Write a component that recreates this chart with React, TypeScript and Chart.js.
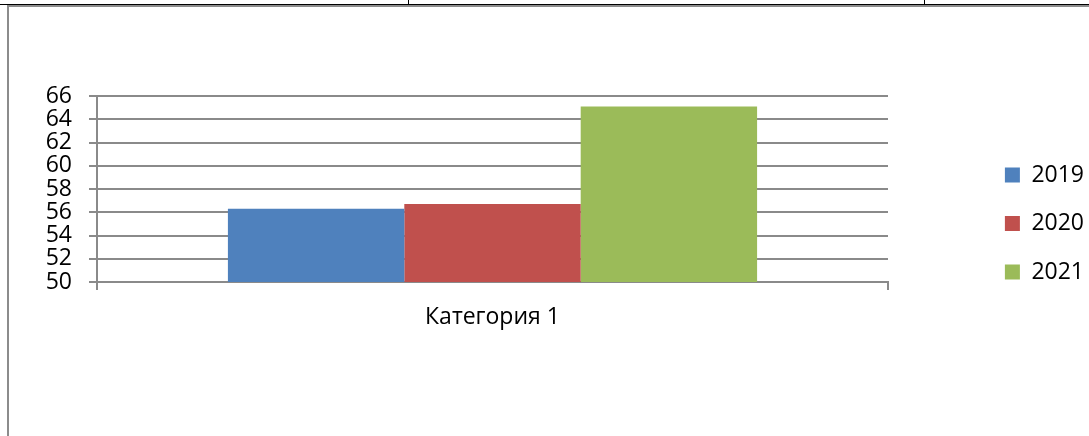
import React, { useEffect, useRef } from "react";
import { Chart, registerables } from "chart.js";

Chart.register(...registerables);

const categories = ["Категория 1"];
const seriesNames = ["2019", "2020", "2021"];
const values2019 = [56.3];
const values2020 = [56.7];
const values2021 = [65.1];
const seriesColors = ["#4F81BD", "#C0504D", "#9BBB59"];
const yMin = 50;
const yMax = 66;
const yStep = 2;

const GRID = "#8a8a8a";
const FONT = "'Open Sans', 'Noto Sans', sans-serif";
const FS = 23;

export default function App() {
  const ref = useRef<HTMLCanvasElement | null>(null);

  useEffect(() => {
    if (!ref.current) return;
    const seriesValues = [values2019, values2020, values2021];
    const chart = new Chart(ref.current, {
      type: "bar",
      data: {
        labels: categories,
        datasets: seriesNames.map((name, i) => ({
          label: name,
          data: seriesValues[i],
          backgroundColor: seriesColors[i],
          borderWidth: 0,
          categoryPercentage: 0.669,
          barPercentage: 1,
        })),
      },
      options: {
        animation: false,
        responsive: false,
        devicePixelRatio: 1,
        layout: { padding: { left: 0, right: -5, top: 4, bottom: 0 } },
        plugins: {
          tooltip: { enabled: false },
          legend: {
            position: "right",
            align: "center",
            labels: {
              boxWidth: 15,
              boxHeight: 15,
              padding: 25.5,
              color: "#000",
              font: { family: FONT, size: FS },
            },
          },
        },
        scales: {
          x: {
            position: "bottom",
            offset: true,
            grid: {
              display: true,
              offset: true,
              drawOnChartArea: false,
              drawTicks: true,
              tickLength: 8,
              color: GRID,
              lineWidth: 2,
            },
            border: { display: true, color: GRID, width: 2 },
            ticks: {
              color: "#000",
              padding: 14,
              font: { family: FONT, size: FS },
            },
            afterFit: (s: any) => {
              s.height = 154;
            },
          },
          xTop: {
            type: "category",
            position: "top",
            labels: categories,
            grid: { display: false },
            border: { display: false },
            ticks: { display: false },
            afterFit: (s: any) => {
              s.height = 85;
            },
          },
          y: {
            min: yMin,
            max: yMax,
            ticks: {
              stepSize: yStep,
              autoSkip: false,
              color: "#000",
              padding: 17,
              font: { family: FONT, size: FS },
            },
            grid: {
              color: GRID,
              lineWidth: 2,
              drawTicks: true,
              tickLength: 8,
            },
            border: { display: true, color: GRID, width: 2 },
            afterFit: (s: any) => {
              s.width = 88;
            },
          },
          ySpacer: {
            type: "linear",
            position: "right",
            grid: { display: false },
            border: { display: false },
            ticks: { display: false },
            afterFit: (s: any) => {
              s.width = 91.4;
            },
          },
        },
      },
    });
    return () => chart.destroy();
  }, []);

  return (
    <div
      style={{
        position: "absolute",
        left: 0,
        top: 0,
        width: 1089,
        height: 436,
        overflow: "hidden",
        background: "#fff",
      }}
    >
      <div style={{ position: "absolute", left: 0, top: 4, width: 1089, height: 1, background: "#000" }} />
      <div style={{ position: "absolute", left: 7, top: 5, width: 1082, height: 2, background: "#8c8c8c" }} />
      <div style={{ position: "absolute", left: 7, top: 5, width: 2, height: 431, background: "#8c8c8c" }} />
      <div style={{ position: "absolute", left: 408, top: 0, width: 1, height: 4, background: "#000" }} />
      <div style={{ position: "absolute", left: 924, top: 0, width: 1, height: 4, background: "#000" }} />
      <canvas
        ref={ref}
        width={1080}
        height={429}
        style={{ position: "absolute", left: 9, top: 7, width: 1080, height: 429 }}
      />
    </div>
  );
}
